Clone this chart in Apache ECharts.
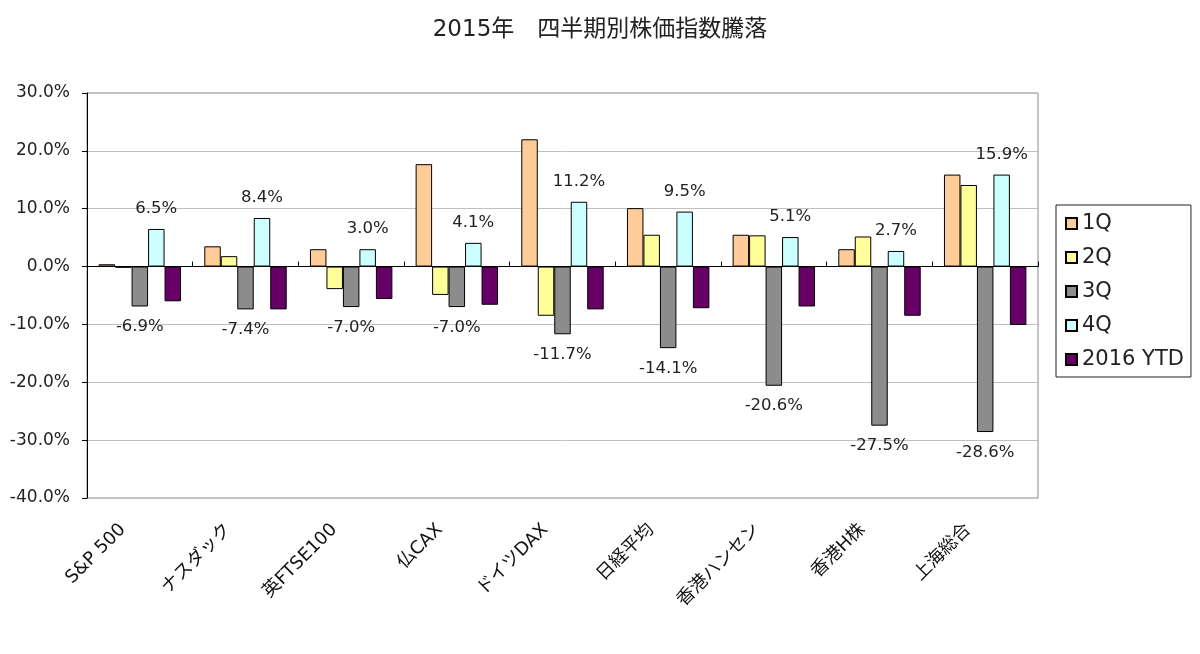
<!DOCTYPE html>
<html>
<head>
<meta charset="utf-8">
<script src="https://cdn.jsdelivr.net/npm/echarts@6/dist/echarts.min.js"></script>
<style>html,body{margin:0;padding:0;background:#fff;}#c{width:1200px;height:654px;}</style>
</head>
<body>
<div id="c"></div>
<script>
const categories = ['S&P 500','ナスダック','英FTSE100','仏CAX','ドイツDAX','日経平均','香港ハンセン','香港H株','上海総合'];
const seriesNames = ['1Q','2Q','3Q','4Q','2016 YTD'];
const q1 = [0.4, 3.5, 3.0, 17.7, 22.0, 10.1, 5.5, 3.0, 15.9];
const q2 = [-0.2, 1.8, -3.9, -4.9, -8.5, 5.5, 5.4, 5.2, 14.1];
const q3 = [-6.9, -7.4, -7.0, -7.0, -11.7, -14.1, -20.6, -27.5, -28.6];
const q4 = [6.5, 8.4, 3.0, 4.1, 11.2, 9.5, 5.1, 2.7, 15.9];
const ytd = [-6.0, -7.4, -5.6, -6.6, -7.4, -7.2, -6.9, -8.5, -10.1];
const yTicks = {min: -40, max: 30, interval: 10};

const colors = ['#FFCC99', '#FFFF99', '#8C8C8C', '#CCFFFF', '#660066'];
const FONT = '"DejaVu Sans", "Noto Sans CJK JP", sans-serif';
const fmt = v => Number(v).toFixed(1) + '%';

function mk(i, data, label) {
  const s = {
    name: seriesNames[i], type: 'bar', data: data, xAxisIndex: 0,
    barGap: '0%', barCategoryGap: '22%',
    itemStyle: {color: colors[i], borderColor: '#000', borderWidth: 1},
    emphasis: {disabled: true}
  };
  if (label) {
    s.label = {show: true, position: label, distance: 12, formatter: p => fmt(p.value),
      color: '#222', fontSize: 16.5, fontFamily: FONT};
  }
  return s;
}

const chart = echarts.init(document.getElementById('c'));
chart.setOption({
  animation: false,
  backgroundColor: '#fff',
  title: {text: '2015年　四半期別株価指数騰落', left: 'center', top: 14,
    textStyle: {fontSize: 23, fontWeight: 'normal', color: '#222', fontFamily: FONT}},
  legend: {
    orient: 'vertical', left: 1056, top: 205,
    data: seriesNames, itemWidth: 11, itemHeight: 11, itemGap: 13,
    borderColor: '#222', borderWidth: 1, padding: [8, 7, 7, 9],
    textStyle: {fontSize: 21, color: '#222', fontFamily: FONT},
    icon: 'rect'
  },
  grid: {left: 87, right: 162, top: 93, bottom: 156, show: true, borderColor: '#888', borderWidth: 1},
  xAxis: [{
    type: 'category', data: categories,
    axisLine: {onZero: true, lineStyle: {color: '#000', width: 1}},
    axisTick: {show: true, inside: true, length: 5, interval: 0, lineStyle: {color: '#000'}},
    axisLabel: {show: false}, splitLine: {show: false}
  }, {
    type: 'category', data: categories, position: 'bottom',
    axisLine: {show: false, onZero: false}, axisTick: {show: false},
    axisLabel: {interval: 0, rotate: 45, margin: 12, fontSize: 18, color: '#111', fontFamily: FONT, padding: [0, 24, 0, 0]}
  }],
  yAxis: {
    type: 'value', min: yTicks.min, max: yTicks.max, interval: yTicks.interval,
    axisLine: {show: true, lineStyle: {color: '#000'}},
    axisTick: {show: true, length: 5, lineStyle: {color: '#000'}},
    axisLabel: {formatter: v => fmt(v), fontSize: 17, color: '#222', margin: 17, fontFamily: FONT},
    splitLine: {lineStyle: {color: '#c0c0c0'}}
  },
  series: [mk(0, q1), mk(1, q2), mk(2, q3, 'bottom'), mk(3, q4, 'top'), mk(4, ytd)]
});
</script>
</body>
</html>
